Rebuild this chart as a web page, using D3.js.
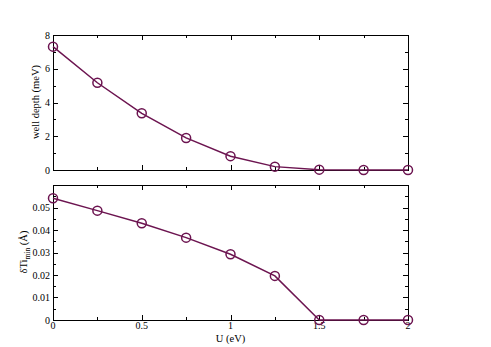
<!DOCTYPE html>
<meta charset="utf-8">
<style>
    body { margin: 0; background: #fff; }
    svg text { font-family: "Liberation Serif", "DejaVu Serif", serif; fill: #000; }
</style>
<svg id="chart" width="491" height="347"></svg>
<script src="https://cdn.jsdelivr.net/npm/d3@7/dist/d3.min.js"></script>
<script>
    var U = [0, 0.25, 0.5, 0.75, 1, 1.25, 1.5, 1.75, 2];
    var wellDepth = [7.31, 5.17, 3.36, 1.9, 0.82, 0.2, 0.02, 0.0, 0.0];
    var dTiMin = [0.0541, 0.0486, 0.043, 0.0366, 0.0292, 0.0196, 0.0, 0.0, 0.0];
    var xTicks = [0, 0.5, 1, 1.5, 2];
    var xMinor = [0.25, 0.75, 1.25, 1.75];
    var topTicks = [0, 2, 4, 6, 8];
    var topMinor = [1, 3, 5, 7];
    var botTicks = [0, 0.01, 0.02, 0.03, 0.04, 0.05];
    var botMinor = [0.005, 0.015, 0.025, 0.035, 0.045, 0.055];

    var svg = d3.select("#chart");
    var lineColor = "#6c1450";
    var left = 53, right = 408;
    var x = d3.scaleLinear().domain([0, 2]).range([left, right]);

    function panel(top, bottom, yDomain, values, ticks, minor, fmt, showX) {
        var y = d3.scaleLinear().domain(yDomain).range([bottom, top]);
        var g = svg.append("g");

        // frame
        g.append("rect")
            .attr("x", left + 0.5).attr("y", top + 0.5)
            .attr("width", right - left).attr("height", bottom - top)
            .attr("fill", "none").attr("stroke", "#000").attr("stroke-width", 1);

        // inward ticks on all four sides
        function vt(list, len) {
            list.forEach(v => {
                var px = Math.round(x(v)) + 0.5;
                g.append("line").attr("x1", px).attr("x2", px)
                    .attr("y1", bottom).attr("y2", bottom - len).attr("stroke", "#000");
                g.append("line").attr("x1", px).attr("x2", px)
                    .attr("y1", top).attr("y2", top + len).attr("stroke", "#000");
            });
        }
        function ht(list, len) {
            list.forEach(v => {
                var py = Math.round(y(v)) + 0.5;
                g.append("line").attr("y1", py).attr("y2", py)
                    .attr("x1", left).attr("x2", left + len).attr("stroke", "#000");
                g.append("line").attr("y1", py).attr("y2", py)
                    .attr("x1", right).attr("x2", right - len).attr("stroke", "#000");
            });
        }
        vt(xTicks, 5); vt(xMinor, 3);
        ht(ticks, 5); ht(minor, 3);

        ticks.forEach(v => {
            g.append("text").attr("x", left - 3).attr("y", y(v) + 3.5)
                .attr("text-anchor", "end").attr("font-size", 10).text(fmt(v));
        });
        if (showX) {
            xTicks.forEach(v => {
                g.append("text").attr("x", x(v)).attr("y", bottom + 9)
                    .attr("text-anchor", "middle").attr("font-size", 10).text(v);
            });
        }

        var pts = U.map((u, i) => [u, values[i]]);
        g.append("path").datum(pts)
            .attr("fill", "none").attr("stroke", lineColor).attr("stroke-width", 1.5)
            .attr("d", d3.line().x(d => x(d[0])).y(d => y(d[1])));
        g.selectAll("circle").data(pts).enter().append("circle")
            .attr("cx", d => x(d[0])).attr("cy", d => y(d[1])).attr("r", 4.5)
            .attr("fill", "none").attr("stroke", lineColor).attr("stroke-width", 1.5);
        return y;
    }

    panel(35, 170, [0, 8], wellDepth, topTicks, topMinor, d => d, false);
    panel(185, 320, [0, 0.06], dTiMin, botTicks, botMinor, d => d === 0 ? "0" : d3.format(".2f")(d), true);

    svg.append("text").attr("transform", "translate(39,102) rotate(-90)")
        .attr("text-anchor", "middle").attr("font-size", 10.5).text("well depth (meV)");

    var yl = svg.append("text").attr("transform", "translate(27,252) rotate(-90)")
        .attr("text-anchor", "middle").attr("font-size", 10.5);
    yl.append("tspan").text("\u03b4Ti");
    yl.append("tspan").attr("font-size", 7.5).attr("dy", 3).text("min");
    yl.append("tspan").attr("dy", -3).text(" (\u00c5)");

    svg.append("text").attr("x", x(1)).attr("y", 342)
        .attr("text-anchor", "middle").attr("font-size", 10.5).text("U (eV)");
</script>
